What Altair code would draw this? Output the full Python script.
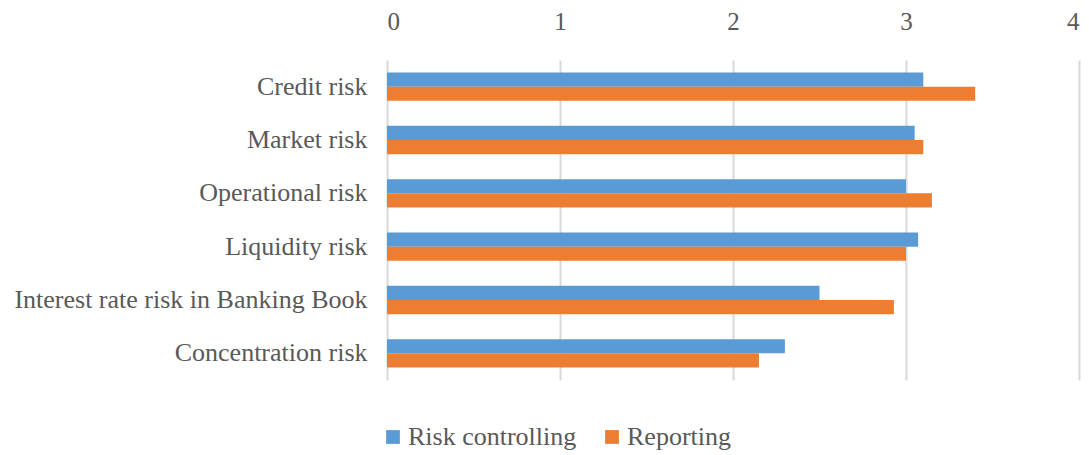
import altair as alt
import pandas as pd

categories = ["Credit risk", "Market risk", "Operational risk", "Liquidity risk",
              "Interest rate risk in Banking Book", "Concentration risk"]
series = ["Risk controlling", "Reporting"]
risk_controlling = [3.10, 3.05, 3.00, 3.07, 2.50, 2.30]
reporting = [3.40, 3.10, 3.15, 3.00, 2.93, 2.15]
x_ticks = [0, 1, 2, 3, 4]
colors = ["#5B9BD5", "#ED7D31"]

rows = []
for c, a, b in zip(categories, risk_controlling, reporting):
    rows.append({"category": c, "series": series[0], "value": a})
    rows.append({"category": c, "series": series[1], "value": b})
df = pd.DataFrame(rows)

FONT = "Liberation Serif"
GRAY = "#595959"

chart = alt.Chart(df).mark_bar().encode(
    x=alt.X("value:Q",
            scale=alt.Scale(domain=[0, 4], nice=False, zero=True),
            axis=alt.Axis(orient="top", values=x_ticks, format="d", title=None,
                          domain=False, ticks=False, grid=True,
                          gridColor="#d9d9d9", gridWidth=2,
                          labelFont=FONT, labelFontSize=25, labelColor=GRAY,
                          labelPadding=26)),
    y=alt.Y("category:N", sort=categories,
            scale=alt.Scale(paddingInner=0.47, paddingOuter=0.235),
            axis=alt.Axis(title=None, domain=False, ticks=False, grid=False,
                          labelFont=FONT, labelFontSize=26, labelColor=GRAY,
                          labelPadding=20, labelLimit=500)),
    yOffset=alt.YOffset("series:N", sort=series,
                        scale=alt.Scale(paddingInner=0, paddingOuter=0)),
    color=alt.Color("series:N", sort=series,
                    scale=alt.Scale(domain=series, range=colors),
                    legend=alt.Legend(title=None, orient="none", direction="horizontal",
                                      legendX=-7, legendY=364, padding=0,
                                      symbolType="square", symbolSize=190,
                                      symbolStrokeWidth=0, labelLimit=500,
                                      labelFont=FONT, labelFontSize=26, labelColor=GRAY,
                                      labelOffset=2, columnPadding=22)),
).properties(
    width=692,
    height=320,
    autosize=alt.AutoSizeParams(type="none"),
    padding={"left": 379, "top": 52, "right": 2, "bottom": 75},
).configure_view(stroke=None)

chart.save("out.html", embed_options={"renderer": "svg", "actions": False})
